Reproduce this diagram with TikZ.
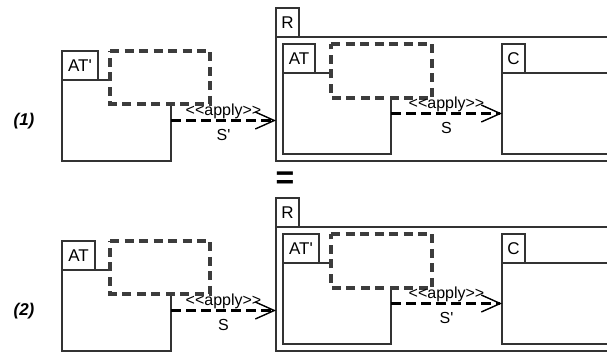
\documentclass[tikz,border=0pt]{standalone}
\usepackage{fontspec}
\newfontfamily\umlfont{Liberation Sans}
\usepackage{xcolor}
\usetikzlibrary{arrows.meta}
\definecolor{linegray}{HTML}{333333}
\definecolor{dashgray}{HTML}{3C3C3C}

\begin{document}
\begin{tikzpicture}[
    x=1pt,
    y=-1pt,
    tabbox/.style={draw=linegray, line width=1.1pt, minimum height=29pt, inner sep=0pt, outer sep=0pt, anchor=north west, font=\umlfont\fontsize{17}{19}\selectfont},
    pkgbody/.style={draw=linegray, line width=1.1pt, inner sep=0pt, outer sep=0pt, anchor=north west},
    holebox/.style={fill=white, inner sep=0pt, outer sep=0pt, anchor=north west},
    holeline/.style={draw=dashgray, line width=3.8pt, dash pattern=on 9pt off 5.5pt},
    applyarrow/.style={draw=black, line width=2.8pt, dash pattern=on 10pt off 5pt, -{Straight Barb[length=19pt, width=17pt, line width=1.4pt]}},
    stereo/.style={font=\umlfont\fontsize{16}{18}\selectfont, inner sep=0pt, yshift=9pt},
    relname/.style={font=\umlfont\fontsize{16}{18}\selectfont, inner sep=0pt, yshift=-14pt},
    rowlabel/.style={font=\umlfont\fontsize{17}{19}\selectfont\bfseries\itshape}
]
\useasboundingbox (0,0) rectangle (607,352);
\clip (0,0) rectangle (607,352);
\node[rowlabel] (lbl1) at (24,121) {(1)};
\node[tabbox, minimum width=36pt] (tabA) at (62,51) {AT'};
\node[pkgbody, minimum width=109pt, minimum height=81pt] (pkgA) at (tabA.south west) {};
\node[holebox, minimum width=100pt, minimum height=53pt] (holeA) at (110,51) {};
\draw[holeline] (holeA.north west) -- (holeA.north east) -- (holeA.south east) -- (holeA.south west) -- cycle;
\node[tabbox, minimum width=23pt] (tabR) at (276,8) {R};
\node[pkgbody, minimum width=360pt, minimum height=124pt] (bodyR) at (tabR.south west) {};
\node[tabbox, minimum width=32pt] (tabB) at (283,44) {AT};
\node[pkgbody, minimum width=108pt, minimum height=81pt] (pkgB) at (tabB.south west) {};
\node[holebox, minimum width=101pt, minimum height=54pt] (holeB) at (331,44) {};
\draw[holeline] (holeB.north west) -- (holeB.north east) -- (holeB.south east) -- (holeB.south west) -- cycle;
\node[tabbox, minimum width=23pt] (tabC) at (502,44) {C};
\node[pkgbody, minimum width=120pt, minimum height=81pt] (pkgC) at (tabC.south west) {};
\draw[applyarrow] (pkgA.east) -- (pkgA.east -| bodyR.west)
    node[stereo, midway] {<{}<apply>{}>} node[relname, midway] {S'};
\draw[applyarrow] (pkgB.east) -- (pkgB.east -| pkgC.west)
    node[stereo, midway] {<{}<apply>{}>} node[relname, midway] {S};
\node[font=\umlfont\fontsize{32}{32}\selectfont\bfseries] (eq) at (285,180) {=};
\node[rowlabel] (lbl2) at (24,311) {(2)};
\node[tabbox, minimum width=33pt] (tabD) at (62,241) {AT};
\node[pkgbody, minimum width=109pt, minimum height=81pt] (pkgD) at (tabD.south west) {};
\node[holebox, minimum width=100pt, minimum height=53pt] (holeD) at (110,241) {};
\draw[holeline] (holeD.north west) -- (holeD.north east) -- (holeD.south east) -- (holeD.south west) -- cycle;
\node[tabbox, minimum width=23pt] (tabS) at (276,198) {R};
\node[pkgbody, minimum width=360pt, minimum height=124pt] (bodyS) at (tabS.south west) {};
\node[tabbox, minimum width=36pt] (tabE) at (283,234) {AT'};
\node[pkgbody, minimum width=108pt, minimum height=81pt] (pkgE) at (tabE.south west) {};
\node[holebox, minimum width=101pt, minimum height=54pt] (holeE) at (331,234) {};
\draw[holeline] (holeE.north west) -- (holeE.north east) -- (holeE.south east) -- (holeE.south west) -- cycle;
\node[tabbox, minimum width=23pt] (tabF) at (502,234) {C};
\node[pkgbody, minimum width=120pt, minimum height=81pt] (pkgF) at (tabF.south west) {};
\draw[applyarrow] (pkgD.east) -- (pkgD.east -| bodyS.west)
    node[stereo, midway] {<{}<apply>{}>} node[relname, midway] {S};
\draw[applyarrow] (pkgE.east) -- (pkgE.east -| pkgF.west)
    node[stereo, midway] {<{}<apply>{}>} node[relname, midway] {S'};
\end{tikzpicture}
\end{document}
